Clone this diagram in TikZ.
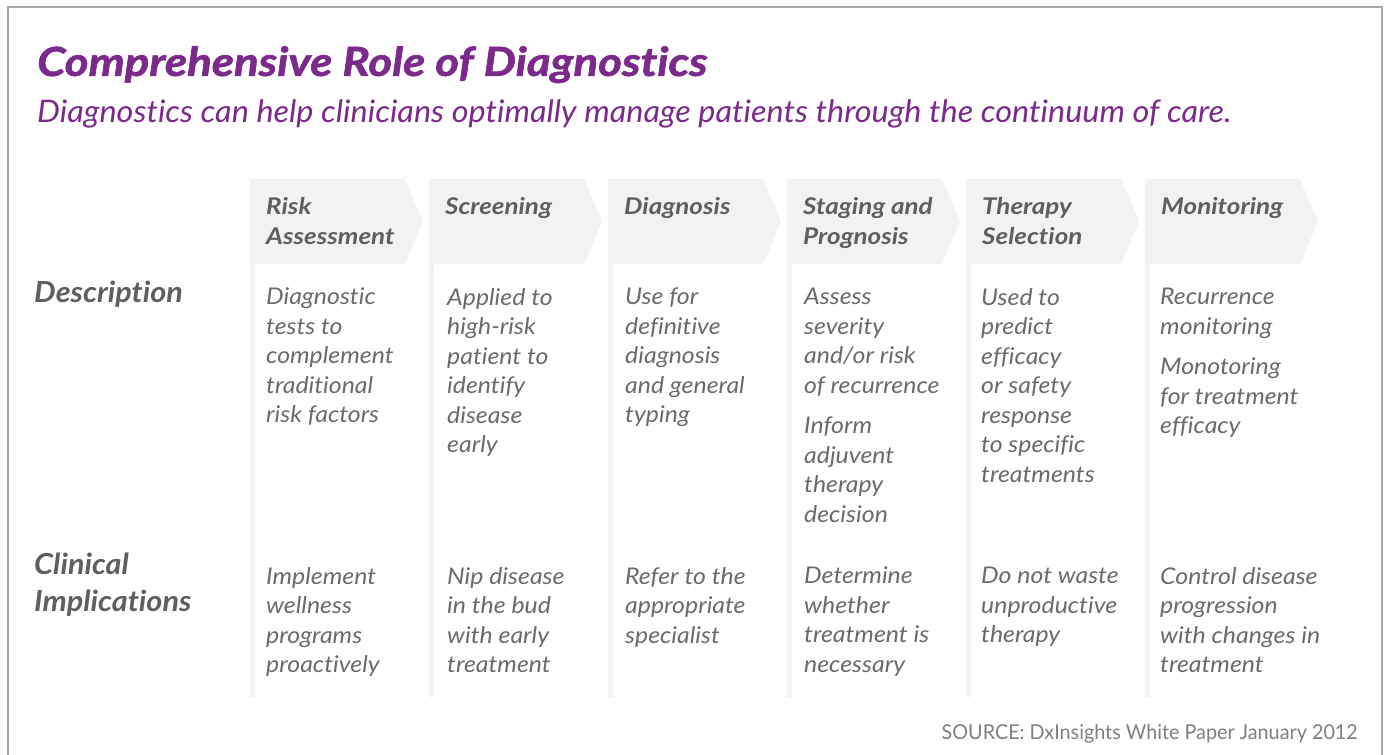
\documentclass[tikz,border=0pt]{standalone}
\usepackage{fontspec}
\defaultfontfeatures{Ligatures=NoCommon}
\setmainfont{Lato}
\newfontfamily\dxtitle[FakeStretch=1.14, FakeBold=1.6]{Lato}
\newfontfamily\dxsub[FakeStretch=1.045]{Lato}
\newfontfamily\dxhead[FakeStretch=1.13]{Lato}
\newfontfamily\dxbody[FakeStretch=1.08]{Lato}
\newfontfamily\dxrow[FakeStretch=1.055]{Lato}
\newfontfamily\dxsrc[FakeStretch=0.965]{Lato}
\usepackage{xcolor}
\usetikzlibrary{positioning, calc}

\definecolor{dxpurple}{HTML}{7B2A8C}
\definecolor{hdrgrey}{HTML}{5E5F61}
\definecolor{txtgrey}{HTML}{6A6B6D}
\definecolor{chevgrey}{HTML}{F1F2F4}
\definecolor{framegrey}{HTML}{A6A6A6}
\definecolor{srcgrey}{HTML}{808080}

\begin{document}
\begin{tikzpicture}[x=1pt, y=-1pt,
    chev/.style={fill=chevgrey},
    hdr/.style={anchor=north west, inner sep=0pt, align=left, text=hdrgrey,
        font=\dxhead\fontsize{23}{30}\selectfont\bfseries\itshape},
    txt/.style={anchor=north west, inner sep=0pt, align=left, text=txtgrey,
        font=\dxbody\fontsize{23}{29.5}\selectfont\itshape},
    rowlabel/.style={anchor=north west, inner sep=0pt, align=left, text=hdrgrey,
        font=\dxrow\fontsize{29}{37}\selectfont\bfseries\itshape}]

    \useasboundingbox (0,0) rectangle (1385,755);
    \fill[white] (0,0) rectangle (1385,755);

    % frame
    \draw[framegrey, line width=1.5pt] (8,760) -- (8,7) -- (1382,7) -- (1382,760);

    % title
    \node[anchor=north west, inner sep=0pt, text=dxpurple,
        font=\dxtitle\fontsize{40}{46}\selectfont\bfseries\itshape] (Titolo) at (37,46)
        {Comprehensive Role of Diagnostics};
    \node[anchor=north west, inner sep=0pt, text=dxpurple,
        font=\dxsub\fontsize{31}{36}\selectfont\itshape] (Sottotitolo) at (37,99)
        {Diagnostics can help clinicians optimally manage patients through the continuum of care.};

    % chevrons
    \fill[chev] (250,179) -- (405,179) -- (423,221.5) -- (405,264) -- (250,264) -- cycle;
    \fill[chev] (429,179) -- (584,179) -- (602,221.5) -- (584,264) -- (429,264) -- cycle;
    \fill[chev] (608,179) -- (763,179) -- (781,221.5) -- (763,264) -- (608,264) -- cycle;
    \fill[chev] (787,179) -- (942,179) -- (960,221.5) -- (942,264) -- (787,264) -- cycle;
    \fill[chev] (966,179) -- (1121,179) -- (1139,221.5) -- (1121,264) -- (966,264) -- cycle;
    \fill[chev] (1145,179) -- (1300,179) -- (1318,221.5) -- (1300,264) -- (1145,264) -- cycle;

    % column strips
    \fill[chev] (250,264) rectangle (255,697);
    \fill[chev] (429,264) rectangle (434,697);
    \fill[chev] (608,264) rectangle (613,697);
    \fill[chev] (787,264) rectangle (792,697);
    \fill[chev] (966,264) rectangle (971,697);
    \fill[chev] (1145,264) rectangle (1150,697);

    % headers
    \node[hdr] (HdrRischio) at (266,197) {Risk\\Assessment};
    \node[hdr] (HdrScreening) at (445,197) {Screening};
    \node[hdr] (HdrDiagnosi) at (624,197) {Diagnosis};
    \node[hdr] (HdrStadio) at (803,197) {Staging and\\Prognosis};
    \node[hdr] (HdrTerapia) at (982,197) {Therapy\\Selection};
    \node[hdr] (HdrMonitor) at (1161,197) {Monitoring};

    % row labels
    \node[rowlabel] (Descrizione) at (34,281) {Description};
    \node[rowlabel] (Clinica) at (34,553) {Clinical\\Implications};

    % description row
    \node[txt] (Descr1) at (266,288) {Diagnostic\\tests to\\complement\\traditional\\risk factors};
    \node[txt] (Descr2) at (447,288) {Applied to\\high-risk\\patient to\\identify\\disease\\early};
    \node[txt] (Descr3) at (625,288) {Use for\\definitive\\diagnosis\\and general\\typing};
    \node[txt] (Descr4) at (804,288) {Assess\\severity\\and/or risk\\of recurrence\\[11pt]Inform\\adjuvent\\therapy\\decision};
    \node[txt] (Descr5) at (981,288) {Used to\\predict\\efficacy\\or safety\\response\\to specific\\treatments};
    \node[txt] (Descr6) at (1160,288) {Recurrence\\monitoring\\[11pt]Monotoring\\for treatment\\efficacy};

    % clinical implications row
    \node[txt] (Clin1) at (266,567) {Implement\\wellness\\programs\\proactively};
    \node[txt] (Clin2) at (447,567) {Nip disease\\in the bud\\with early\\treatment};
    \node[txt] (Clin3) at (625,567) {Refer to the\\appropriate\\specialist};
    \node[txt] (Clin4) at (804,567) {Determine\\whether\\treatment is\\necessary};
    \node[txt] (Clin5) at (981,567) {Do not waste\\unproductive\\therapy};
    \node[txt] (Clin6) at (1160,567) {Control disease\\progression\\with changes in\\treatment};

    % source
    \node[anchor=north east, inner sep=0pt, text=srcgrey,
        font=\dxsrc\fontsize{20.5}{25}\selectfont] (Fonte) at (1358,724)
        {SOURCE: DxInsights White Paper January 2012};
\end{tikzpicture}
\end{document}
